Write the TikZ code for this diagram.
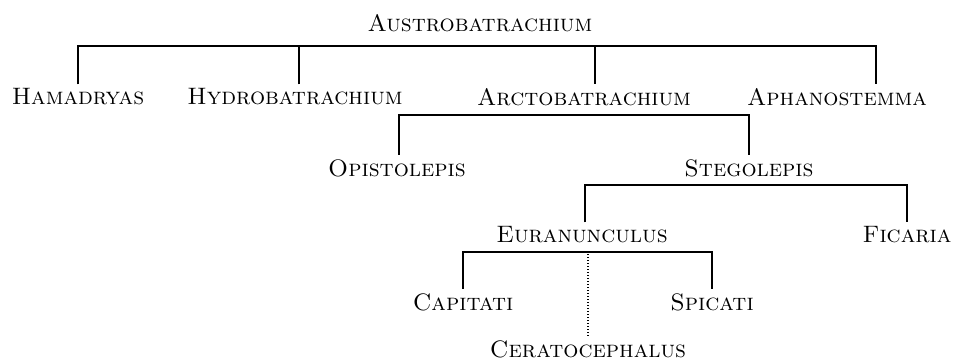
\documentclass[tikz,border=0pt]{standalone}
\begin{document}
\begin{tikzpicture}[x=0.5pt, y=-0.5pt,
  taxon/.style={inner sep=2pt, font=\fontsize{11.9}{14}\selectfont\scshape},
  branch/.style={line width=0.6pt}]

    \useasboundingbox (0,0) rectangle (963,362);

    % Names
    \node[taxon] (austro) at (480,23) {Austrobatrachium};
    \node[taxon] (hama) at (78,97) {Hamadryas};
    \node[taxon] (hydro) at (295,97) {Hydrobatrachium};
    \node[taxon] (arcto) at (584,97) {Arctobatrachium};
    \node[taxon] (aphan) at (837,97) {Aphanostemma};
    \node[taxon] (opist) at (397,168) {Opistolepis};
    \node[taxon] (steg) at (749,168) {Stegolepis};
    \node[taxon] (eura) at (582,235) {Euranunculus};
    \node[taxon] (fic) at (907,235) {Ficaria};
    \node[taxon] (capit) at (463,302) {Capitati};
    \node[taxon] (spic) at (712,302) {Spicati};
    \node[taxon] (cerat) at (588,349) {Ceratocephalus};

    % Bar heights and drop points
    \coordinate (bar1) at (0,46);
    \coordinate (bar2) at (0,115);
    \coordinate (bar3) at (0,185);
    \coordinate (bar4) at (0,252);
    \coordinate (hydrotop) at ([xshift=2pt]hydro.north);
    \coordinate (arctotop) at ([xshift=5.5pt]arcto.north);
    \coordinate (aphantop) at ([xshift=19.5pt]aphan.north);
    \coordinate (opisttop) at ([xshift=1pt]opist.north);
    \coordinate (euratop) at ([xshift=1.5pt]eura.north);

    % Austrobatrachium
    \draw[branch] (hama.north) |- (aphantop |- bar1) -- (aphantop);
    \draw[branch] (hydrotop) -- (hydrotop |- bar1);
    \draw[branch] (arctotop) -- (arctotop |- bar1);

    % Arctobatrachium
    \draw[branch] (opisttop) |- (steg.north |- bar2) -- (steg.north);

    % Stegolepis
    \draw[branch] (euratop) |- (fic.north |- bar3) -- (fic.north);

    % Euranunculus
    \draw[branch] (capit.north) |- (spic.north |- bar4) -- (spic.north);
    \draw[branch, dash pattern=on 0.5pt off 1pt] (cerat.north) -- (cerat.north |- bar4);

\end{tikzpicture}
\end{document}
